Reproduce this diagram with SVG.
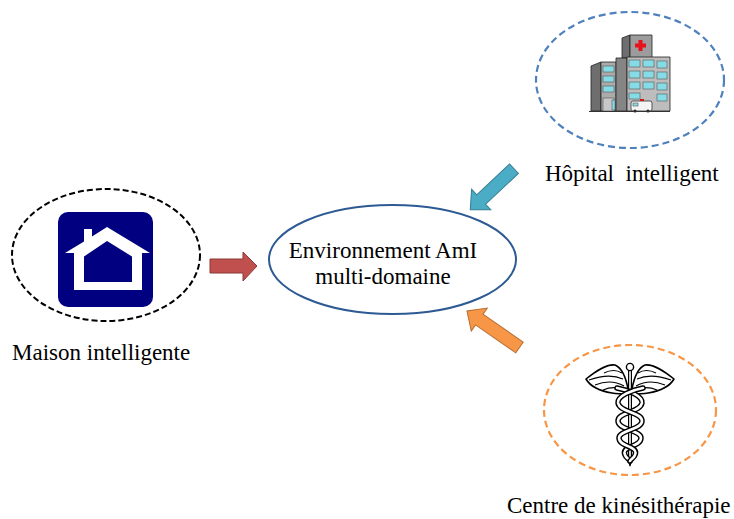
<svg xmlns="http://www.w3.org/2000/svg" xmlns:xlink="http://www.w3.org/1999/xlink" width="734" height="519" viewBox="0 0 734 519">
  <style>
    .lbl { font-family: "Liberation Serif", "Times New Roman", serif; font-size: 23px; fill: #000; }
    .dash-k { fill: none; stroke: #000; stroke-width: 2; stroke-dasharray: 6 3; }
    .dash-b { fill: none; stroke: #4F81BD; stroke-width: 2.2; stroke-dasharray: 7 4; }
    .dash-o { fill: none; stroke: #F79646; stroke-width: 2.2; stroke-dasharray: 7 4; }
    .win { fill: #86DCE6; stroke: #555; stroke-width: 0.6; }
    .edge { stroke: #222; stroke-width: 0.8; stroke-linejoin: round; }
    .snake-o { fill: none; stroke: #000; stroke-width: 5.5; stroke-linecap: round; }
    .snake-i { fill: none; stroke: #fff; stroke-width: 2.6; stroke-linecap: round; }
  </style>
  <defs>
    <!-- block arrow pointing along +x, tail at origin -->
    <polygon id="blk60" points="0,-6.5 45,-6.5 45,-14 60,0 45,14 45,6.5 0,6.5"/>
    <polygon id="blk64" points="0,-6.5 49,-6.5 49,-14 64,0 49,14 49,6.5 0,6.5"/>
    <!-- caduceus wing (left), mirrored for the right -->
    <g id="wing">
      <path d="M628,389 C626,378 622,368 615,365 C606,364 596,371 586,379 C590,386 600,391 612,393 C618,394 624,394 628,394 Z" fill="#fff" stroke="#000" stroke-width="1.6" stroke-linejoin="round"/>
      <path d="M589,380 C600,376 612,374 623,379 M595,385 C605,381 615,381 624,386 M603,390 C610,387 618,387 625,390 M604,373 C610,370 617,370 622,373" fill="none" stroke="#000" stroke-width="1.1"/>
    </g>
    <!-- one serpent, mirrored for the other -->
    <path id="serpent" d="M617,388 C628,390 643,396 642,403 C641,408 635,410 630,412 C625,414 618,416 618,421 C618,426 625,428 630,430 C635,432 641,434 641,438 C641,443 635,445 630,447 C626,449 623,451 625,455 C626,458 629,459 630,461"/>
  </defs>

  <!-- connectors: block arrows toward the central environment -->
  <g id="connectors">
    <polygon points="210,259 243,259 243,252 257,266 243,281 243,273 210,273" fill="#C0504D" stroke="#8C3836" stroke-width="1"/>
    <use xlink:href="#blk60" transform="translate(514,168.7) rotate(136.8)" fill="#4BACC6" stroke="#357D91" stroke-width="1"/>
    <use xlink:href="#blk64" transform="translate(519.5,347.5) rotate(214.8)" fill="#F79646" stroke="#B66D31" stroke-width="1"/>
  </g>

  <!-- central node -->
  <g id="env-ami">
    <ellipse cx="392.5" cy="259.5" rx="123.5" ry="54.5" fill="#fff" stroke="#2E5A94" stroke-width="2"/>
    <text class="lbl" x="383" y="258" text-anchor="middle">Environnement AmI</text>
    <text class="lbl" x="383" y="284" text-anchor="middle">multi-domaine</text>
  </g>

  <!-- smart home -->
  <g id="maison">
    <ellipse class="dash-k" cx="106" cy="255" rx="94" ry="66"/>
    <rect x="58" y="212" width="95" height="95" rx="10" fill="#000080"/>
    <polygon points="107,227 150,253 142,253 142,290 74,290 74,253 65,253 84,241.6 84,229 92,229 92,236.5" fill="#fff"/>
    <polygon points="107,241 132,256.5 132,282 84,282 84,256.5" fill="#000080"/>
    <text class="lbl" x="12" y="360">Maison intelligente</text>
  </g>

  <!-- smart hospital -->
  <g id="hopital">
    <ellipse class="dash-b" cx="630" cy="80" rx="94" ry="68"/>
    <!-- tower -->
    <polygon class="edge" points="622,38 630,35 630,58 622,58" fill="#6E6E6E"/>
    <rect class="edge" x="630" y="35" width="22" height="23" fill="#9C9C9C"/>
    <path d="M638.5,40 h4 v3.5 h3.5 v4 h-3.5 v3.5 h-4 v-3.5 h-3.5 v-4 h3.5 Z" fill="#E8101A"/>
    <!-- left wing -->
    <polygon class="edge" points="591,66 601,62 601,111 591,111" fill="#6E6E6E"/>
    <rect class="edge" x="601" y="62" width="15" height="49" fill="#ABABAB"/>
    <rect class="win" x="603" y="66" width="11" height="6"/>
    <rect class="win" x="603" y="76" width="11" height="6"/>
    <rect class="win" x="603" y="86" width="11" height="6"/>
    <rect x="603" y="98" width="11" height="13" fill="#C8C8C8" stroke="#555" stroke-width="0.6"/>
    <rect class="win" x="612" y="100" width="3" height="10"/>
    <!-- middle link -->
    <rect class="edge" x="616" y="58" width="11" height="53" fill="#858585"/>
    <!-- main block -->
    <rect class="edge" x="627" y="57" width="43" height="54" fill="#BDBDBD"/>
    <rect class="win" x="629" y="60" width="11" height="7"/>
    <rect class="win" x="643" y="60" width="11" height="7"/>
    <rect class="win" x="657" y="61" width="10" height="7"/>
    <rect class="win" x="629" y="71" width="11" height="7"/>
    <rect class="win" x="643" y="71" width="11" height="7"/>
    <rect class="win" x="657" y="72" width="10" height="7"/>
    <rect class="win" x="629" y="82" width="11" height="7"/>
    <rect class="win" x="643" y="82" width="11" height="7"/>
    <rect class="win" x="657" y="83" width="10" height="7"/>
    <rect class="win" x="629" y="93" width="11" height="6"/>
    <rect class="win" x="657" y="94" width="10" height="7"/>
    <!-- ambulance -->
    <rect x="631" y="101" width="21" height="10" rx="2" fill="#F4F4F4" stroke="#333" stroke-width="0.8"/>
    <rect x="640" y="99" width="4" height="2" fill="#D01818"/>
    <rect class="win" x="633" y="103" width="5" height="3"/>
    <circle cx="635" cy="111" r="1.6" fill="#222"/>
    <circle cx="648" cy="111" r="1.6" fill="#222"/>
    <line x1="589" y1="111.5" x2="670" y2="111.5" stroke="#333" stroke-width="1"/>
    <text class="lbl" x="545" y="181" xml:space="preserve">Hôpital  intelligent</text>
  </g>

  <!-- physiotherapy centre -->
  <g id="kine">
    <ellipse class="dash-o" cx="630" cy="410" rx="86" ry="65"/>
    <!-- staff -->
    <polygon points="628.6,369 631.4,369 631.4,460 630,466 628.6,460" fill="#fff" stroke="#000" stroke-width="1.2"/>
    <circle cx="630" cy="367" r="3.6" fill="#fff" stroke="#000" stroke-width="1.4"/>
    <!-- wings -->
    <use xlink:href="#wing"/>
    <use xlink:href="#wing" transform="translate(1260,0) scale(-1,1)"/>
    <!-- serpents -->
    <use xlink:href="#serpent" class="snake-o"/>
    <use xlink:href="#serpent" class="snake-i"/>
    <use xlink:href="#serpent" class="snake-o" transform="translate(1260,0) scale(-1,1)"/>
    <use xlink:href="#serpent" class="snake-i" transform="translate(1260,0) scale(-1,1)"/>
    <text class="lbl" x="507" y="513">Centre de kinésithérapie</text>
  </g>
</svg>
